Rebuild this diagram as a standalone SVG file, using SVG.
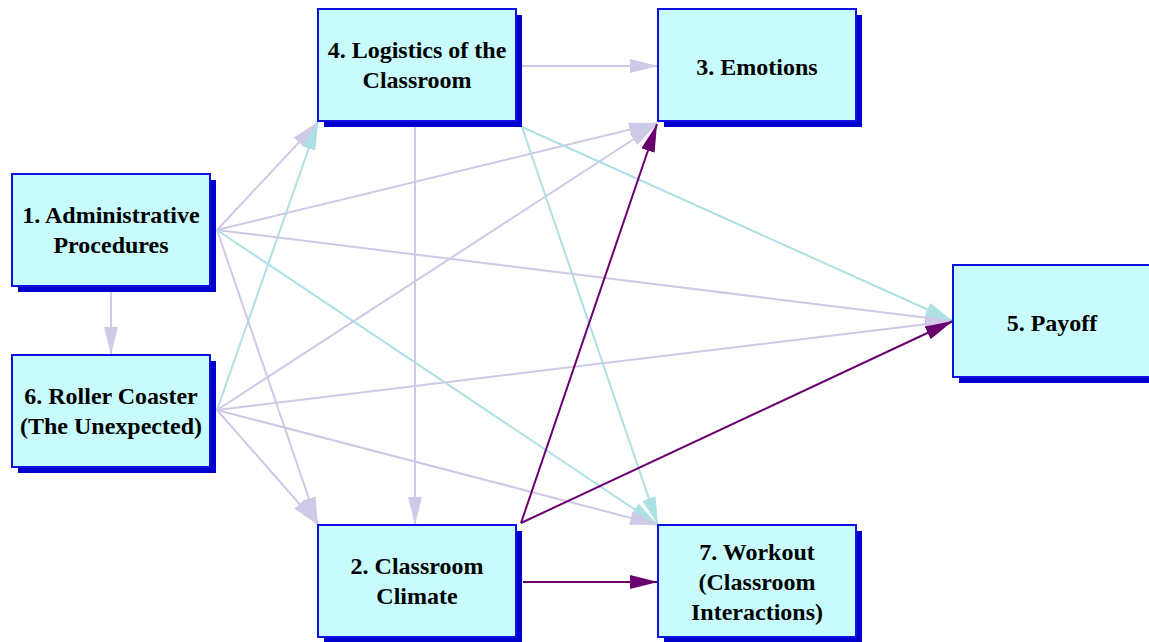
<svg xmlns="http://www.w3.org/2000/svg" width="1149" height="642" viewBox="0 0 1149 642">
<style>
.shadow{fill:#0000cc}
.box{fill:#c8fcfc;stroke:#1010e0;stroke-width:2}
.lbl{font-family:"Liberation Serif","Times New Roman",serif;font-weight:bold;font-size:24px;fill:#000;text-anchor:middle}
.lav{stroke:#cfc8e6;stroke-width:2;fill:none;marker-end:url(#aLav)}
.cy{stroke:#ade0e4;stroke-width:2;fill:none;marker-end:url(#aCy)}
.pu{stroke:#6a0070;stroke-width:2;fill:none;marker-end:url(#aPu)}
</style>
<defs>
<marker id="aLav" markerUnits="userSpaceOnUse" markerWidth="28" markerHeight="14" refX="28" refY="7" orient="auto"><path d="M0,0 L28,7 L0,14 z" fill="#cfc8e6"/></marker>
<marker id="aCy" markerUnits="userSpaceOnUse" markerWidth="28" markerHeight="14" refX="28" refY="7" orient="auto"><path d="M0,0 L28,7 L0,14 z" fill="#ade0e4"/></marker>
<marker id="aPu" markerUnits="userSpaceOnUse" markerWidth="28" markerHeight="14" refX="28" refY="7" orient="auto"><path d="M0,0 L28,7 L0,14 z" fill="#6a0070"/></marker>
</defs>
<rect width="1149" height="642" fill="#fff"/>
<g id="connectors">
<line class="lav" x1="111" y1="292" x2="111" y2="355"/>
<line class="lav" x1="217" y1="230" x2="318" y2="122"/>
<line class="cy" x1="217" y1="410" x2="318" y2="122"/>
<line class="lav" x1="217" y1="230" x2="657" y2="123"/>
<line class="lav" x1="217" y1="410" x2="657" y2="124"/>
<line class="lav" x1="217" y1="230" x2="953" y2="321"/>
<line class="lav" x1="217" y1="410" x2="953" y2="321"/>
<line class="cy" x1="522" y1="127" x2="953" y2="321"/>
<line class="lav" x1="217" y1="230" x2="318" y2="525"/>
<line class="lav" x1="217" y1="410" x2="318" y2="525"/>
<line class="cy" x1="217" y1="230" x2="658" y2="525"/>
<line class="lav" x1="217" y1="410" x2="658" y2="525"/>
<line class="cy" x1="522" y1="127" x2="658" y2="525"/>
<line class="lav" x1="415" y1="127" x2="415" y2="525"/>
<line class="lav" x1="522" y1="66" x2="658" y2="66"/>
<line class="pu" x1="521" y1="523" x2="657" y2="124"/>
<line class="pu" x1="521" y1="523" x2="953" y2="321"/>
<line class="pu" x1="523" y1="582" x2="658" y2="582"/>
</g>
<g id="n1"><rect class="shadow" x="18" y="180" width="198" height="112"/><rect class="box" x="12" y="174" width="198" height="112"/><text class="lbl" x="111" y="223">1. Administrative</text><text class="lbl" x="111" y="253">Procedures</text></g>
<g id="n6"><rect class="shadow" x="18" y="361" width="198" height="112"/><rect class="box" x="12" y="355" width="198" height="112"/><text class="lbl" x="111" y="404">6. Roller Coaster</text><text class="lbl" x="111" y="434">(The Unexpected)</text></g>
<g id="n4"><rect class="shadow" x="324" y="15" width="198" height="112"/><rect class="box" x="318" y="9" width="198" height="112"/><text class="lbl" x="417" y="58">4. Logistics of the</text><text class="lbl" x="417" y="88">Classroom</text></g>
<g id="n3"><rect class="shadow" x="664" y="15" width="198" height="112"/><rect class="box" x="658" y="9" width="198" height="112"/><text class="lbl" x="757" y="75">3. Emotions</text></g>
<g id="n5"><rect class="shadow" x="959" y="271" width="198" height="112"/><rect class="box" x="953" y="265" width="198" height="112"/><text class="lbl" x="1052" y="331">5. Payoff</text></g>
<g id="n2"><rect class="shadow" x="324" y="531" width="198" height="112"/><rect class="box" x="318" y="525" width="198" height="112"/><text class="lbl" x="417" y="574">2. Classroom</text><text class="lbl" x="417" y="604">Climate</text></g>
<g id="n7"><rect class="shadow" x="664" y="531" width="198" height="112"/><rect class="box" x="658" y="525" width="198" height="112"/><text class="lbl" x="757" y="560">7. Workout</text><text class="lbl" x="757" y="590">(Classroom</text><text class="lbl" x="757" y="620">Interactions)</text></g>
</svg>
